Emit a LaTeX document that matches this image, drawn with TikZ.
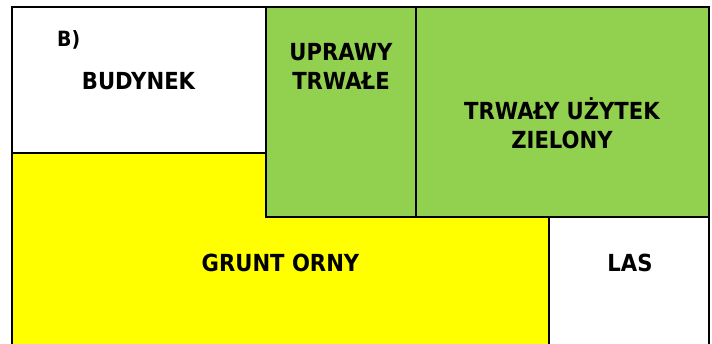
\documentclass[tikz,border=0pt]{standalone}
\usepackage{fontspec}
\usepackage{tikz}
\newfontfamily\landfont{DejaVu Sans}[FakeStretch=0.9]
\definecolor{grunt}{RGB}{255,255,0}
\definecolor{trawa}{RGB}{146,208,80}

\begin{document}
\begin{tikzpicture}[x=1pt, y=-1pt,
  plot/.style={draw=black, line width=2.5pt},
  label/.style={font=\landfont\bfseries\fontsize{23.5}{29}\selectfont, align=center, anchor=base, inner sep=0pt}]
\useasboundingbox (0,0) rectangle (712,343);
% uzytki na dzialce
\filldraw[plot, fill=grunt] (12,153) -- (266,153) -- (266,217) -- (549,217) -- (549,347) -- (12,347) -- cycle;
\filldraw[plot, fill=white] (12,7) rectangle (266,153);
\filldraw[plot, fill=white] (549,217) rectangle (709,347);
\filldraw[plot, fill=trawa] (266,7) rectangle (709,217);
\draw[line width=1.8pt] (416,7) -- (416,217);
% opisy
\node[label, font=\landfont\bfseries\fontsize{21}{25}\selectfont, anchor=base west] (wariant) at (57,46.7) {B)};
\node[label] (budynek) at (138.5,89.3) {BUDYNEK};
\node[label] (uprawy) at (341,89) {UPRAWY\\TRWAŁE};
\node[label] (tuz) at (562,148) {TRWAŁY UŻYTEK\\ZIELONY};
\node[label] (grunt) at (280.5,271) {GRUNT ORNY};
\node[label] (las) at (630,271) {LAS};
\end{tikzpicture}
\end{document}
